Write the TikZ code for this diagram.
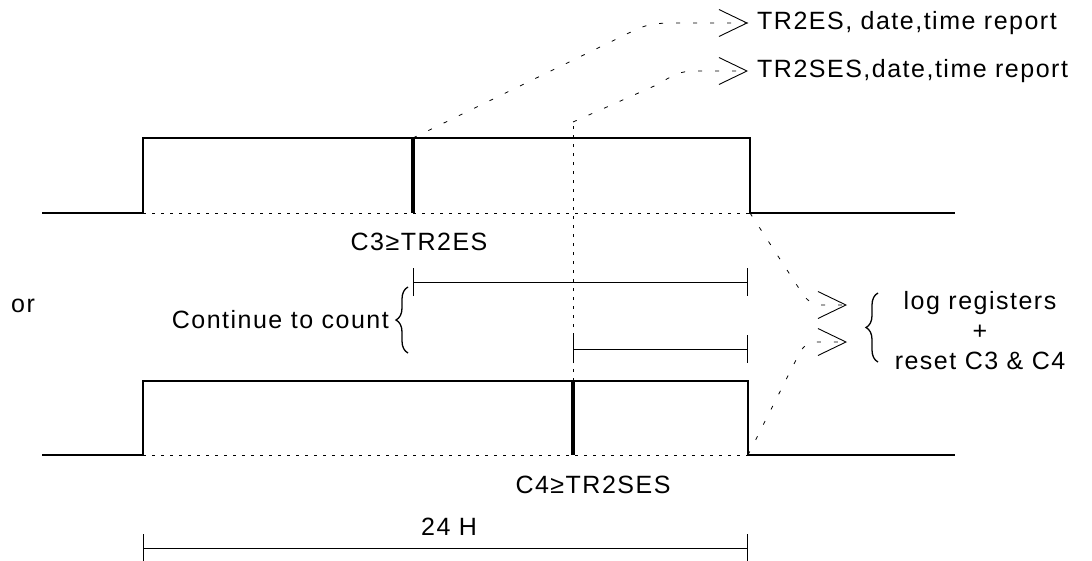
\documentclass[tikz,border=0pt]{standalone}
\usepackage{fontspec}
\setmainfont[LetterSpace=6.0]{Liberation Sans}
\usetikzlibrary{arrows.meta}
\usetikzlibrary{positioning}
\usetikzlibrary{decorations.markings,decorations.pathreplacing}

\begin{document}
\begin{tikzpicture}[x=1pt,y=-1pt,
    every node/.style={font=\fontsize{25}{30}\selectfont,inner sep=0pt},
    pulse/.style={line width=1.1pt},
    level/.style={line width=1pt,dash pattern=on 3pt off 6pt},
    marker/.style={line width=4pt},
    trace/.style={line width=0.8pt,dash pattern=on 4pt off 13pt,
      decoration={markings,mark=at position 1 with {\arrow{Straight Barb[length=28pt,width=27pt,line width=0.9pt]}}},
      postaction={decorate}},
    span/.style={{Bar[width=28pt]}-{Bar[width=28pt]},line width=1pt},
    curly/.style={decorate,decoration={brace,amplitude=12pt},line width=1.3pt}
  ]
      \useasboundingbox (0,0) rectangle (1092,560);

      % counter C3
      \draw[pulse] (42,213) -- (143,213) -- (143,138) -- (750,138) -- (750,213) -- (955,213);
      \draw[level] (143,213) -- (750,213);
      \draw[marker] (413,138) -- (413,213);
      \node (c3lbl) at (419,242) {C3≥TR2ES};

      % counter C4
      \draw[pulse] (42,455) -- (143,455) -- (143,381) -- (748,381) -- (748,455) -- (955,455);
      \draw[level] (143,455) -- (748,455);
      \draw[marker] (573,381) -- (573,455);
      \node (c4lbl) at (593,485) {C4≥TR2SES};

      % reports
      \coordinate (tip1) at (748,23);
      \coordinate (tip2) at (748,71);
      \node[right=9pt of tip1] (rep1) {TR2ES, date,time report};
      \node[right=9pt of tip2] (rep2) {TR2SES,date,time report};
      \draw[trace] (413,138) -- (635,30) .. controls (650,23) and (660,23) .. (680,23) -- (tip1);
      \draw[level] (573,381) -- (573,122);
      \draw[trace] (573,122) -- (652,87) .. controls (668,80) and (674,71) .. (695,71) -- (tip2);

      % end of day
      \coordinate (tip3) at (847,305);
      \coordinate (tip4) at (847,342);
      \draw[trace] (750,213) -- (800,290) .. controls (806,300) and (812,305) .. (822,305) -- (tip3);
      \draw[trace] (748,455) -- (800,352) .. controls (805,344) and (810,342) .. (820,342) -- (tip4);
      \draw[curly] (878,362) -- (878,293);
      \node[align=center] (logreg) at (980,331) {log registers\\+\\reset C3 \& C4};

      % counting on
      \node (orlbl) at (23,306) {or};
      \draw[span] (413,282) -- (748,282);
      \draw[span] (573,349) -- (748,349);
      \draw[curly] (408,353) -- (408,287);
      \node[anchor=east] (cont) at (389,320) {Continue to count};

      % one day
      \draw[span] (143,548) -- (748,548);
      \node (day) at (449,527) {24 H};
\end{tikzpicture}
\end{document}
